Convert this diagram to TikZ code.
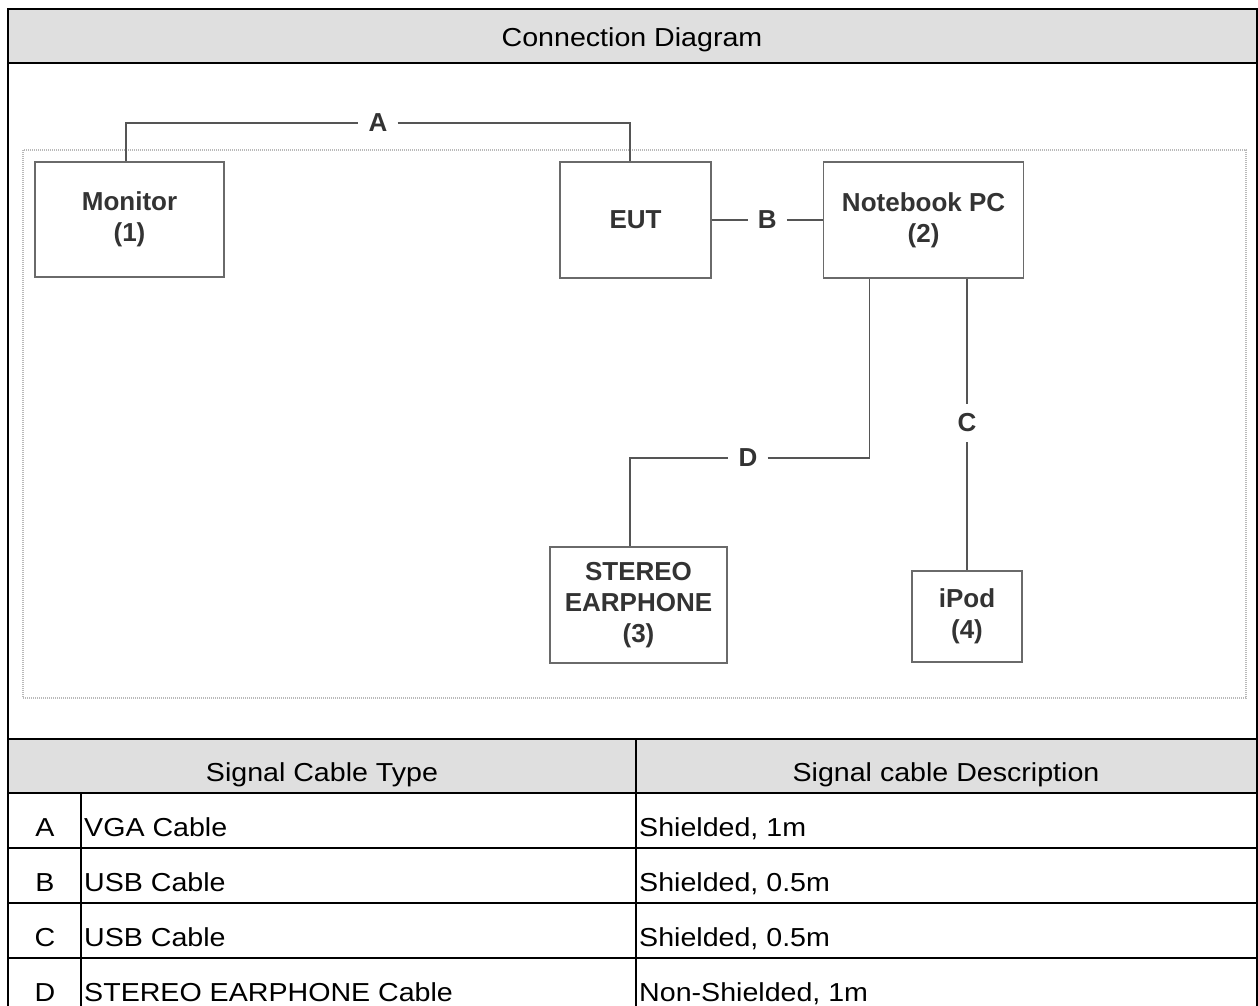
\documentclass[tikz,border=0pt]{standalone}
\usepackage{fontspec}
\setmainfont{Liberation Sans}
\newfontfamily\tabfont[FakeStretch=1.1]{Liberation Sans}
\usepackage{xcolor}
\usepackage{tikz}
\usetikzlibrary{positioning, calc}
\definecolor{hdrgray}{HTML}{DFDFDF}
\definecolor{boxgray}{HTML}{6A6A6A}
\definecolor{wiregray}{HTML}{555555}

\begin{document}
\begin{tikzpicture}[
      x=1pt, y=-1pt,
      every node/.style={font=\bfseries\fontsize{26}{31}\selectfont, text=black!80},
      unit/.style={draw=boxgray, line width=1.6pt, align=center, inner sep=0pt},
      cable/.style={inner sep=10pt},
      wire/.style={draw=wiregray, line width=1.6pt},
      rule/.style={line width=2.4pt},
      cell/.style={font=\tabfont\fontsize{26}{30}\selectfont, text=black, inner sep=0pt, anchor=base}
    ]
      \useasboundingbox (0,0) rectangle (1258,1005);
      \clip (0,0) rectangle (1258,1005);
      \fill[hdrgray] (8,9) rectangle (1257,63);
      \fill[hdrgray] (8,739) rectangle (1257,793);
      \draw[gray!55, line width=1.4pt, dash pattern=on 1pt off 1pt] (23,150) rectangle (1246,698);

      \node[unit, minimum width=189pt, minimum height=115pt] (mon) at (129.5,219.5) {Monitor\\(1)};
      \node[unit, minimum width=151pt, minimum height=116pt] (eut) at (635.5,220) {EUT};
      \node[unit, minimum width=200pt, minimum height=116pt, right=111pt of eut] (nb) {Notebook PC\\(2)};
      \node[unit, minimum width=177pt, minimum height=116pt] (ear) at (638.5,605) {STEREO\\EARPHONE\\(3)};
      \node[unit, minimum width=110pt, minimum height=91pt] (ipod) at (967,616.5) {iPod\\(4)};

      \node[cable] (labA) at (378,123) {A};
      \node[cable] (labB) at ($(eut.east)!0.5!(nb.west)$) {B};
      \node[cable] (labC) at (967,423) {C};
      \node[cable] (labD) at (748,458) {D};

      \draw[wire] ($(mon.north)+(-3.5,0)$) |- (labA);
      \draw[wire] (labA) -| ($(eut.north)+(-5.5,0)$);
      \draw[wire] (eut.east) -- (labB) -- (nb.west);
      \draw[wire] (ipod.north |- nb.south) -- (labC) -- (ipod.north);
      \draw[wire] ($(ear.north)+(-8.5,0)$) |- (labD);
      \draw[wire] (labD) -| ($(nb.south)+(-54,0)$);

      \draw[rule] (8,1013) -- (8,9) -- (1257,9) -- (1257,1013);
      \draw[rule] (8,63) -- (1257,63);
      \draw[rule] (8,739) -- (1257,739);
      \draw[rule] (8,793) -- (1257,793);
      \draw[rule] (8,848) -- (1257,848);
      \draw[rule] (8,903) -- (1257,903);
      \draw[rule] (8,958) -- (1257,958);
      \draw[rule] (8,1013) -- (1257,1013);
      \draw[rule] (636,739) -- (636,1013);
      \draw[rule] (81,793) -- (81,1013);

      \node[cell] (title) at (632,46) {Connection Diagram};
      \node[cell] (htype) at (322,781) {Signal Cable Type};
      \node[cell] (hdesc) at (946,781) {Signal cable Description};

      \node[cell] (ka) at (45,836) {A};
      \node[cell, anchor=base west] (ta) at (84,836) {VGA Cable};
      \node[cell, anchor=base west] (da) at (639,836) {Shielded, 1m};
      \node[cell] (kb) at (45,891) {B};
      \node[cell, anchor=base west] (tb) at (84,891) {USB Cable};
      \node[cell, anchor=base west] (db) at (639,891) {Shielded, 0.5m};
      \node[cell] (kc) at (45,946) {C};
      \node[cell, anchor=base west] (tc) at (84,946) {USB Cable};
      \node[cell, anchor=base west] (dc) at (639,946) {Shielded, 0.5m};
      \node[cell] (kd) at (45,1001) {D};
      \node[cell, anchor=base west] (td) at (84,1001) {STEREO EARPHONE Cable};
      \node[cell, anchor=base west] (dd) at (639,1001) {Non-Shielded, 1m};
    \end{tikzpicture}
\end{document}
